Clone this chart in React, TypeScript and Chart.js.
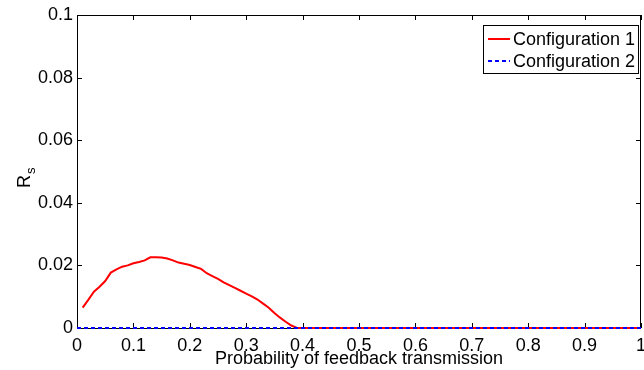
import React, { useEffect, useRef } from "react";
import { Chart, registerables } from "chart.js";

Chart.register(...registerables);

const config1X = [
  0.01, 0.02, 0.03, 0.04, 0.05, 0.06, 0.07, 0.08, 0.09, 0.1,
  0.11, 0.12, 0.13, 0.14, 0.15, 0.16, 0.17, 0.18, 0.19, 0.2,
  0.21, 0.22, 0.23, 0.24, 0.25, 0.26, 0.27, 0.28, 0.29, 0.3,
  0.31, 0.32, 0.33, 0.34, 0.35, 0.36, 0.37, 0.38, 0.39, 0.4,
  0.5, 0.6, 0.7, 0.8, 0.9, 1.0,
];
const config1Y = [
  0.0065, 0.009, 0.0116, 0.0132, 0.015, 0.0177, 0.0187, 0.0196, 0.02, 0.0207,
  0.0211, 0.0216, 0.0226, 0.0226, 0.0225, 0.0222, 0.0216, 0.0209, 0.0205, 0.0201,
  0.0195, 0.0189, 0.0175, 0.0166, 0.0157, 0.0146, 0.0137, 0.0128, 0.0119, 0.011,
  0.0101, 0.0091, 0.0078, 0.0065, 0.0048, 0.0033, 0.002, 0.0008, 0.0, 0.0,
  0.0, 0.0, 0.0, 0.0, 0.0, 0.0,
];
const config2X = [0, 0.1, 0.2, 0.3, 0.4, 0.5, 0.6, 0.7, 0.8, 0.9, 1.0];
const config2Y = [0, 0, 0, 0, 0, 0, 0, 0, 0, 0, 0];

const seriesNames = ["Configuration 1", "Configuration 2"];
const xTickValues = [0, 0.1, 0.2, 0.3, 0.4, 0.5, 0.6, 0.7, 0.8, 0.9, 1];
const yTickValues = [0, 0.02, 0.04, 0.06, 0.08, 0.1];
const xTitle = "Probability of feedback transmission";
const yTitleMain = "R";
const yTitleSub = "s";

const FONT = "'Liberation Sans', Arial, Helvetica, sans-serif";

const boxPlugin = {
  id: "matlabBox",
  beforeDatasetsDraw(chart: any) {
    const { ctx, chartArea: a, scales } = chart;
    ctx.save();
    ctx.strokeStyle = "#000";
    ctx.lineWidth = 1;
    ctx.strokeRect(Math.round(a.left) + 0.5, Math.round(a.top) + 0.5, Math.round(a.right - a.left) - 1, Math.round(a.bottom - a.top));
    const tl = 5;
    ctx.beginPath();
    xTickValues.forEach((v) => {
      const px = Math.round(scales.x.getPixelForValue(v)) + 0.5;
      ctx.moveTo(px, a.bottom);
      ctx.lineTo(px, a.bottom - tl);
      ctx.moveTo(px, a.top);
      ctx.lineTo(px, a.top + tl);
    });
    yTickValues.forEach((v) => {
      const py = Math.round(scales.y.getPixelForValue(v)) + 0.5;
      ctx.moveTo(a.left, py);
      ctx.lineTo(a.left + tl, py);
      ctx.moveTo(a.right, py);
      ctx.lineTo(a.right - tl, py);
    });
    ctx.stroke();
    ctx.restore();
  },
  afterDatasetsDraw(chart: any) {
    const { ctx } = chart;
    // y title R_s
    ctx.save();
    ctx.fillStyle = "#000";
    ctx.translate(30, 188);
    ctx.rotate(-Math.PI / 2);
    ctx.textBaseline = "alphabetic";
    ctx.textAlign = "left";
    ctx.font = `18px ${FONT}`;
    const w = ctx.measureText(yTitleMain).width;
    ctx.fillText(yTitleMain, 0, 0);
    ctx.font = `13px ${FONT}`;
    ctx.fillText(yTitleSub, w + 1, 5);
    ctx.restore();

    // legend
    ctx.save();
    const lx = 483, ly = 25, lw = 155, lh = 48;
    ctx.fillStyle = "#fff";
    ctx.fillRect(lx, ly, lw, lh);
    ctx.strokeStyle = "#000";
    ctx.lineWidth = 1;
    ctx.strokeRect(lx + 0.5, ly + 0.5, lw, lh);
    const rows = [ly + 14, ly + 36];
    const ds = chart.data.datasets;
    rows.forEach((ry, i) => {
      ctx.beginPath();
      ctx.strokeStyle = ds[i].borderColor;
      ctx.lineWidth = 2;
      ctx.setLineDash(ds[i].borderDash || []);
      ctx.moveTo(488, ry);
      ctx.lineTo(510, ry);
      ctx.stroke();
      ctx.setLineDash([]);
      ctx.fillStyle = "#000";
      ctx.font = `18px ${FONT}`;
      ctx.textBaseline = "middle";
      ctx.textAlign = "left";
      ctx.fillText(seriesNames[i], 513, ry + 1);
    });
    ctx.restore();
  },
};

export default function App() {
  const ref = useRef<HTMLCanvasElement>(null);
  useEffect(() => {
    if (!ref.current) return;
    const chart = new Chart(ref.current, {
      type: "line",
      data: {
        datasets: [
          {
            label: seriesNames[0],
            data: config1X.map((x, i) => ({ x, y: config1Y[i] })),
            borderColor: "#ff0000",
            borderWidth: 2,
            pointRadius: 0,
            fill: false,
            tension: 0,
            order: 2,
          },
          {
            label: seriesNames[1],
            data: config2X.map((x, i) => ({ x, y: config2Y[i] })),
            borderColor: "#0000ff",
            borderWidth: 2,
            borderDash: [4, 3],
            pointRadius: 0,
            fill: false,
            tension: 0,
            order: 1,
          },
        ],
      },
      plugins: [boxPlugin],
      options: {
        responsive: false,
        animation: false,
        clip: false as any,
        layout: { padding: { top: 15, right: 3, left: 0, bottom: 0 } },
        plugins: { legend: { display: false }, tooltip: { enabled: false } },
        scales: {
          x: {
            type: "linear",
            min: 0,
            max: 1,
            afterBuildTicks: (s: any) => {
              s.ticks = xTickValues.map((v) => ({ value: v }));
            },
            afterFit: (s: any) => {
              s.height = 42;
              s.paddingLeft = 0;
              s.paddingRight = 0;
            },
            grid: { display: false, drawTicks: false },
            border: { display: false },
            ticks: {
              color: "#000",
              font: { family: FONT, size: 18 },
              padding: 7,
              maxRotation: 0,
              autoSkip: false,
              callback: (v: any) => String(Math.round(Number(v) * 10) / 10),
            },
            title: {
              display: true,
              text: xTitle,
              color: "#000",
              font: { family: FONT, size: 18 },
              padding: { top: 0, bottom: 0 },
            },
          },
          y: {
            type: "linear",
            min: 0,
            max: 0.1,
            afterBuildTicks: (s: any) => {
              s.ticks = yTickValues.map((v) => ({ value: v }));
            },
            afterFit: (s: any) => {
              s.width = 77;
              s.paddingTop = 0;
              s.paddingBottom = 0;
            },
            grid: { display: false, drawTicks: false },
            border: { display: false },
            ticks: {
              color: "#000",
              font: { family: FONT, size: 18 },
              padding: 4,
              autoSkip: false,
              callback: (v: any) => String(Math.round(Number(v) * 100) / 100),
            },
          },
        },
      },
    });
    return () => chart.destroy();
  }, []);
  return (
    <div style={{ position: "fixed", left: 0, top: 0, width: 644, height: 370, background: "#fff" }}>
      <canvas ref={ref} width={644} height={370} />
    </div>
  );
}
